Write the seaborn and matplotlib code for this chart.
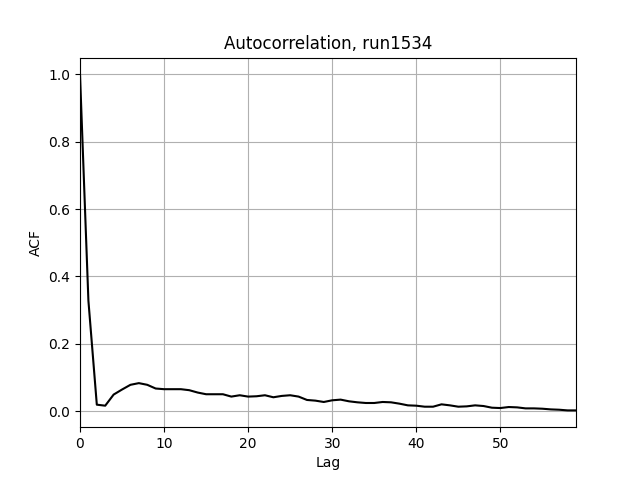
import matplotlib
matplotlib.use("Agg")
import matplotlib.pyplot as plt
import seaborn as sb
import numpy as np

# ACF values, lag 0..59
lags = np.arange(60)
acf = [1.000, 0.328, 0.019, 0.016, 0.049, 0.064, 0.078, 0.083, 0.078, 0.067,
       0.065, 0.065, 0.065, 0.062, 0.055, 0.050, 0.050, 0.050, 0.043, 0.047,
       0.043, 0.044, 0.047, 0.041, 0.045, 0.047, 0.043, 0.033, 0.031, 0.027,
       0.032, 0.034, 0.029, 0.026, 0.024, 0.024, 0.027, 0.026, 0.022, 0.017,
       0.016, 0.013, 0.013, 0.020, 0.017, 0.013, 0.014, 0.017, 0.015, 0.010,
       0.009, 0.012, 0.011, 0.008, 0.008, 0.007, 0.005, 0.004, 0.002, 0.002]

fig, ax = plt.subplots(figsize=(6.4, 4.8), dpi=100)
sb.lineplot(x=lags, y=acf, color="black", linewidth=1.5, ax=ax)
ax.set_xlim(0, 59)
ax.grid(True)
ax.set_xlabel("Lag")
ax.set_ylabel("ACF")
ax.set_title("Autocorrelation, run1534")

plt.savefig("out.png", dpi=100)
plt.close()
